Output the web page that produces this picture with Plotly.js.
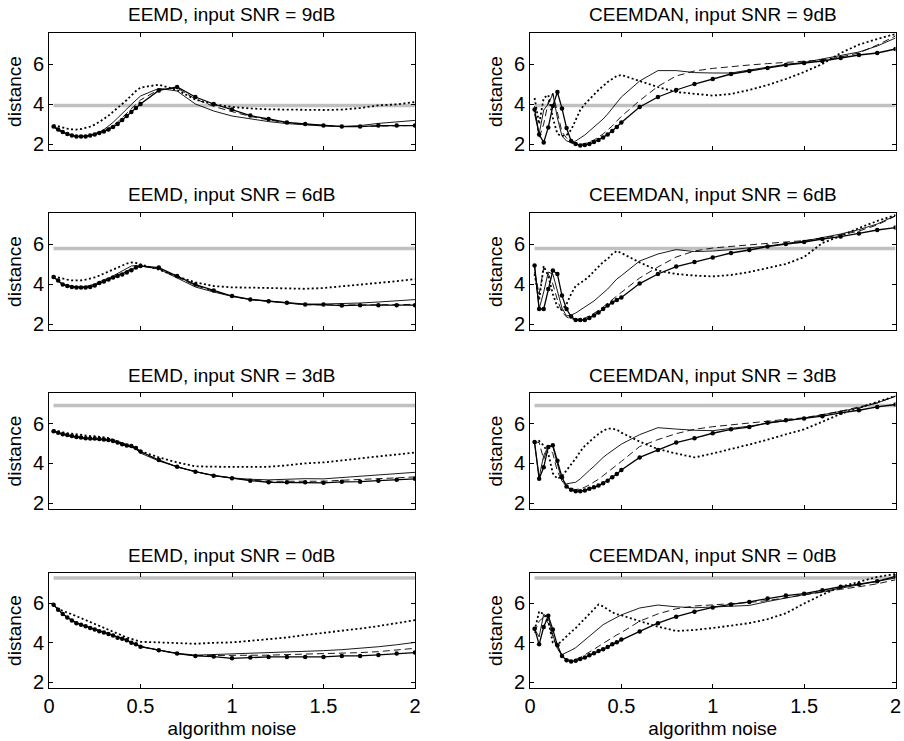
<!DOCTYPE html>
<html>
<head>
<meta charset="utf-8">
<script src="https://cdn.plot.ly/plotly-3.0.1.min.js"></script>
<style>html,body{margin:0;padding:0;background:#fff;}#chart{width:904px;height:741px;}</style>
</head>
<body>
<div id="chart"></div>
<script>
// algorithm noise grid
const xGrid = [0.025,0.05,0.075,0.1,0.125,0.15,0.175,0.2,0.225,0.25,0.275,0.3,0.325,0.35,0.375,0.4,0.425,0.45,0.475,0.5,0.6,0.7,0.8,0.9,1.0,1.1,1.2,1.3,1.4,1.5,1.6,1.7,1.8,1.9,2.0];
const xTicks = [0, 0.5, 1, 1.5, 2];
const yTicks = [2, 4, 6];
const snrLabels = ["9dB", "6dB", "3dB", "0dB"];
const methods = ["EEMD", "CEEMDAN"];
// distance of the noisy input (gray reference line), per SNR
const inputDistance = [3.92, 5.78, 6.92, 7.3];

// EEMD, 9dB
const eemd9_dot   = [2.95,2.88,2.82,2.77,2.73,2.72,2.75,2.8,2.87,2.97,3.1,3.25,3.42,3.6,3.8,4.0,4.2,4.45,4.65,4.82,4.97,4.7,4.22,3.98,3.85,3.78,3.73,3.72,3.7,3.7,3.72,3.8,3.93,3.98,4.1];
const eemd9_solid = [2.85,2.68,2.57,2.48,2.42,2.38,2.38,2.4,2.45,2.52,2.6,2.72,2.88,3.08,3.3,3.55,3.75,3.98,4.2,4.4,4.78,4.65,4.0,3.65,3.4,3.25,3.12,3.02,2.95,2.9,2.88,2.92,3.03,3.1,3.18];
const eemd9_dash  = [2.87,2.7,2.58,2.49,2.43,2.38,2.37,2.38,2.42,2.48,2.56,2.65,2.77,2.92,3.1,3.32,3.55,3.78,4.0,4.2,4.72,4.8,4.25,3.88,3.62,3.38,3.2,3.06,2.98,2.92,2.88,2.87,2.9,2.92,2.93];
const eemd9_mark  = [2.88,2.72,2.6,2.5,2.43,2.38,2.37,2.38,2.42,2.48,2.55,2.62,2.72,2.85,3.0,3.2,3.4,3.6,3.8,4.0,4.68,4.85,4.35,4.0,3.72,3.42,3.25,3.08,3.0,2.92,2.87,2.87,2.92,2.92,2.92];
// EEMD, 6dB
const eemd6_dot   = [4.38,4.32,4.27,4.22,4.18,4.17,4.18,4.22,4.27,4.33,4.42,4.52,4.62,4.73,4.85,4.95,5.02,5.08,5.05,4.98,4.72,4.38,4.08,3.9,3.83,3.82,3.8,3.78,3.76,3.8,3.88,3.96,4.05,4.14,4.25];
const eemd6_solid = [4.35,4.15,4.0,3.92,3.88,3.85,3.85,3.87,3.92,4.0,4.1,4.22,4.28,4.4,4.5,4.65,4.78,4.9,4.92,4.9,4.75,4.3,3.85,3.6,3.38,3.22,3.14,3.06,3.0,3.0,3.02,3.05,3.1,3.15,3.22];
const eemd6_dash  = [4.35,4.16,3.98,3.91,3.86,3.83,3.83,3.84,3.88,3.96,4.07,4.17,4.25,4.36,4.45,4.55,4.67,4.78,4.86,4.9,4.78,4.35,3.92,3.64,3.39,3.22,3.13,3.05,2.97,2.95,2.94,2.95,2.96,2.97,2.98];
const eemd6_mark  = [4.35,4.18,3.97,3.9,3.85,3.82,3.82,3.82,3.85,3.93,4.05,4.13,4.22,4.32,4.4,4.48,4.58,4.69,4.82,4.9,4.82,4.4,3.97,3.68,3.4,3.23,3.14,3.06,2.97,2.97,2.92,2.94,2.94,2.94,2.94];
// EEMD, 3dB
const eemd3_dot   = [5.68,5.62,5.55,5.52,5.5,5.47,5.42,5.4,5.38,5.37,5.35,5.33,5.28,5.2,5.1,5.0,4.92,4.85,4.75,4.62,4.3,4.05,3.85,3.82,3.82,3.82,3.83,3.9,4.0,4.05,4.15,4.25,4.33,4.42,4.55];
const eemd3_solid = [5.6,5.52,5.45,5.4,5.35,5.3,5.28,5.25,5.24,5.23,5.22,5.2,5.17,5.12,5.03,4.95,4.88,4.85,4.72,4.52,4.12,3.83,3.58,3.4,3.27,3.2,3.17,3.2,3.23,3.22,3.28,3.35,3.42,3.48,3.55];
const eemd3_dash  = [5.63,5.56,5.48,5.44,5.39,5.34,5.31,5.28,5.26,5.26,5.24,5.21,5.19,5.14,5.06,4.98,4.91,4.88,4.77,4.58,4.15,3.83,3.58,3.38,3.25,3.15,3.1,3.1,3.1,3.1,3.15,3.18,3.22,3.27,3.32];
const eemd3_mark  = [5.62,5.55,5.47,5.43,5.38,5.33,5.3,5.27,5.25,5.25,5.23,5.2,5.18,5.13,5.05,4.97,4.9,4.88,4.77,4.6,4.17,3.83,3.58,3.38,3.25,3.13,3.05,3.05,3.05,3.02,3.07,3.08,3.13,3.17,3.22];
// EEMD, 0dB
const eemd0_dot   = [5.93,5.72,5.62,5.55,5.45,5.35,5.25,5.15,5.05,4.95,4.85,4.75,4.65,4.55,4.45,4.35,4.27,4.2,4.12,4.05,4.02,4.0,3.95,4.0,4.02,4.1,4.18,4.27,4.4,4.5,4.62,4.72,4.85,5.0,5.15];
const eemd0_solid = [5.93,5.69,5.47,5.3,5.15,5.02,4.93,4.85,4.77,4.69,4.61,4.54,4.47,4.39,4.27,4.21,4.14,4.02,3.93,3.82,3.63,3.47,3.37,3.4,3.45,3.47,3.5,3.53,3.57,3.6,3.65,3.72,3.8,3.9,4.02];
const eemd0_dash  = [5.93,5.68,5.46,5.29,5.14,5.0,4.92,4.84,4.75,4.67,4.59,4.52,4.45,4.37,4.25,4.2,4.13,4.0,3.92,3.8,3.62,3.45,3.35,3.35,3.35,3.36,3.37,3.4,3.42,3.45,3.48,3.5,3.55,3.62,3.72];
const eemd0_mark  = [5.93,5.68,5.46,5.29,5.14,5.0,4.92,4.84,4.75,4.67,4.59,4.52,4.45,4.37,4.25,4.2,4.13,4.0,3.92,3.8,3.62,3.45,3.33,3.3,3.21,3.25,3.28,3.28,3.28,3.28,3.33,3.33,3.38,3.45,3.5];

// CEEMDAN, 9dB
const ceem9_dot   = [4.3,3.0,4.3,4.45,3.3,2.5,2.4,2.45,2.7,3.2,3.7,4.0,4.25,4.5,4.7,4.9,5.1,5.25,5.4,5.45,5.15,4.85,4.6,4.5,4.42,4.5,4.7,4.95,5.25,5.6,6.0,6.55,6.97,7.25,7.5];
const ceem9_solid = [3.5,2.5,3.7,4.0,4.5,3.3,2.4,2.15,2.1,2.15,2.3,2.45,2.65,2.85,3.05,3.25,3.5,3.8,4.1,4.35,5.15,5.67,5.67,5.57,5.55,5.55,5.7,5.85,5.98,6.08,6.25,6.45,6.6,6.9,7.3];
const ceem9_dash  = [3.9,2.3,3.0,4.1,4.55,3.5,2.6,2.3,2.05,1.98,1.98,2.02,2.1,2.2,2.35,2.5,2.7,2.9,3.15,3.38,4.17,4.88,5.4,5.65,5.78,5.88,5.95,6.02,6.08,6.12,6.2,6.35,6.55,6.95,7.4];
const ceem9_mark  = [3.72,2.47,2.08,2.83,3.9,4.6,3.78,2.8,2.15,2.0,1.93,1.95,2.0,2.1,2.2,2.33,2.48,2.65,2.85,3.08,3.85,4.35,4.7,5.0,5.25,5.5,5.65,5.8,5.95,6.05,6.15,6.3,6.45,6.55,6.75];
// CEEMDAN, 6dB
const ceem6_dot   = [4.5,3.2,4.9,4.4,3.5,2.85,2.7,3.0,3.5,3.9,4.05,4.2,4.4,4.65,4.9,5.1,5.25,5.5,5.65,5.55,5.08,4.67,4.5,4.42,4.38,4.45,4.6,4.8,5.0,5.35,6.05,6.4,6.8,7.15,7.45];
const ceem6_solid = [4.9,2.75,3.6,4.6,4.5,3.6,2.8,2.4,2.45,2.55,2.7,2.85,3.0,3.15,3.35,3.55,3.75,4.0,4.25,4.42,5.15,5.5,5.72,5.62,5.65,5.72,5.8,5.9,6.02,6.15,6.32,6.5,6.72,7.0,7.42];
const ceem6_dash  = [4.6,3.5,4.8,4.5,4.0,3.2,2.6,2.35,2.25,2.22,2.25,2.3,2.4,2.52,2.67,2.85,3.02,3.2,3.4,3.58,4.3,4.85,5.35,5.65,5.8,5.88,5.97,6.03,6.1,6.17,6.3,6.45,6.65,6.95,7.4];
const ceem6_mark  = [4.92,2.75,2.75,3.75,4.67,4.5,3.42,2.75,2.37,2.2,2.2,2.2,2.3,2.42,2.58,2.75,2.92,3.08,3.2,3.33,4.02,4.5,4.87,5.1,5.33,5.55,5.7,5.87,6.0,6.1,6.25,6.37,6.53,6.7,6.82];
// CEEMDAN, 3dB
const ceem3_dot   = [5.0,5.13,4.9,4.5,3.5,3.22,3.35,3.63,3.95,4.25,4.6,4.88,5.1,5.3,5.48,5.65,5.75,5.75,5.7,5.55,5.1,4.72,4.5,4.3,4.5,4.72,4.95,5.2,5.45,5.72,6.1,6.5,6.8,7.1,7.4];
const ceem3_solid = [5.0,3.3,4.4,4.85,4.85,3.9,3.1,2.97,3.0,3.05,3.22,3.45,3.65,3.85,4.08,4.3,4.48,4.65,4.82,4.97,5.45,5.8,5.73,5.67,5.65,5.75,5.88,6.02,6.15,6.28,6.45,6.62,6.8,7.05,7.38];
const ceem3_dash  = [5.1,5.05,4.2,4.9,4.5,3.6,3.1,2.85,2.72,2.68,2.72,2.8,2.92,3.05,3.2,3.38,3.55,3.75,3.92,4.1,4.85,5.2,5.5,5.72,5.85,5.95,6.05,6.15,6.22,6.3,6.45,6.63,6.85,7.05,7.4];
const ceem3_mark  = [5.08,3.22,3.8,4.83,4.92,4.13,3.3,2.83,2.67,2.6,2.6,2.63,2.72,2.8,2.88,3.0,3.13,3.3,3.47,3.67,4.3,4.67,5.05,5.27,5.52,5.72,5.83,6.05,6.17,6.27,6.38,6.55,6.68,6.85,6.97];
// CEEMDAN, 0dB
const ceem0_dot   = [4.6,5.6,5.45,5.1,4.0,3.9,4.1,4.35,4.55,4.75,5.0,5.25,5.5,5.75,5.95,5.85,5.7,5.55,5.45,5.4,5.1,4.82,4.6,4.65,4.75,4.88,5.0,5.2,5.5,6.0,6.45,6.85,7.1,7.35,7.5];
const ceem0_solid = [4.7,4.3,5.45,5.3,4.4,3.7,3.4,3.5,3.62,3.75,3.95,4.15,4.35,4.55,4.75,4.92,5.05,5.18,5.3,5.42,5.77,5.92,5.83,5.78,5.82,5.85,5.9,6.1,6.28,6.45,6.6,6.77,6.95,7.12,7.3];
const ceem0_dash  = [4.5,5.1,5.3,5.0,4.3,3.7,3.35,3.15,3.1,3.15,3.25,3.38,3.52,3.67,3.82,3.97,4.12,4.27,4.4,4.52,5.1,5.47,5.73,5.87,5.93,5.98,6.05,6.15,6.3,6.45,6.6,6.72,6.85,7.0,7.2];
const ceem0_mark  = [4.72,3.92,4.8,5.38,4.67,3.87,3.33,3.11,3.05,3.08,3.17,3.25,3.37,3.47,3.58,3.67,3.78,3.92,4.03,4.17,4.58,5.0,5.33,5.58,5.8,5.95,6.08,6.25,6.4,6.5,6.67,6.85,6.98,7.13,7.38];

// panels in reading order: row (SNR) x column (method)
const panels = [
  {m:0, s:0, dot:eemd9_dot, solid:eemd9_solid, dash:eemd9_dash, mark:eemd9_mark},
  {m:1, s:0, dot:ceem9_dot, solid:ceem9_solid, dash:ceem9_dash, mark:ceem9_mark},
  {m:0, s:1, dot:eemd6_dot, solid:eemd6_solid, dash:eemd6_dash, mark:eemd6_mark},
  {m:1, s:1, dot:ceem6_dot, solid:ceem6_solid, dash:ceem6_dash, mark:ceem6_mark},
  {m:0, s:2, dot:eemd3_dot, solid:eemd3_solid, dash:eemd3_dash, mark:eemd3_mark},
  {m:1, s:2, dot:ceem3_dot, solid:ceem3_solid, dash:ceem3_dash, mark:ceem3_mark},
  {m:0, s:3, dot:eemd0_dot, solid:eemd0_solid, dash:eemd0_dash, mark:eemd0_mark},
  {m:1, s:3, dot:ceem0_dot, solid:ceem0_solid, dash:ceem0_dash, mark:ceem0_mark}
];

const W = 904, H = 741;
const colPx = [[49, 415], [530, 895.5]];
const rowPx = [[33, 150], [213, 330], [393, 509], [573, 688]];
const FONT = "Liberation Sans, Arial, Helvetica, sans-serif";

const traces = [];
const layout = {
  width: W, height: H,
  margin: {l: 0, r: 0, t: 0, b: 0},
  paper_bgcolor: "#fff", plot_bgcolor: "#fff",
  showlegend: false,
  font: {family: FONT, color: "#000", size: 18},
  annotations: []
};

panels.forEach((p, i) => {
  const n = i + 1;
  const sfx = (n === 1 ? "" : String(n));
  const xa = "x" + sfx, ya = "y" + sfx;
  const col = p.m, row = p.s;
  const gx = [xGrid[0], xGrid[xGrid.length - 1]];
  traces.push({x: gx, y: [inputDistance[row], inputDistance[row]], xaxis: xa, yaxis: ya,
    mode: "lines", line: {color: "#c0c0c0", width: 3.5}, hoverinfo: "skip"});
  traces.push({x: xGrid, y: p.dot, xaxis: xa, yaxis: ya, mode: "lines",
    line: {color: "#000", width: 1.8, dash: "2px,2.5px"}});
  traces.push({x: xGrid, y: p.solid, xaxis: xa, yaxis: ya, mode: "lines",
    line: {color: "#000", width: 0.9}});
  traces.push({x: xGrid, y: p.dash, xaxis: xa, yaxis: ya, mode: "lines",
    line: {color: "#000", width: 0.9, dash: "7px,4px"}});
  traces.push({x: xGrid, y: p.mark, xaxis: xa, yaxis: ya, mode: "lines+markers",
    line: {color: "#000", width: 1.3}, marker: {color: "#000", size: 4.5}});

  const dx = [colPx[col][0] / W, colPx[col][1] / W];
  const dy = [1 - rowPx[row][1] / H, 1 - rowPx[row][0] / H];
  const common = {showline: true, linecolor: "#000", linewidth: 1, mirror: "ticks",
    ticks: "inside", ticklen: 4, tickwidth: 1, tickcolor: "#000",
    showgrid: false, zeroline: false, fixedrange: true,
    tickfont: {family: FONT, size: 20, color: "#000"}};
  layout["xaxis" + sfx] = Object.assign({}, common, {
    domain: dx, anchor: ya, range: [0, 2], tickmode: "array",
    tickvals: xTicks, ticktext: xTicks.map(String), showticklabels: row === 3,
    title: row === 3 ? {text: "algorithm noise", font: {family: FONT, size: 19}, standoff: 5} : {text: ""}
  });
  layout["yaxis" + sfx] = Object.assign({}, common, {
    domain: dy, anchor: xa, range: [1.7, 7.55], tickmode: "array",
    tickvals: yTicks, ticktext: yTicks.map(String),
    title: {text: "distance", font: {family: FONT, size: 19}, standoff: 6}
  });
  layout.annotations.push({
    xref: "paper", yref: "paper", x: (dx[0] + dx[1]) / 2, y: dy[1],
    yshift: 18, xanchor: "center", yanchor: "middle", showarrow: false,
    text: methods[col] + ", input SNR = " + snrLabels[row],
    font: {family: FONT, size: 19, color: "#000"}
  });
});

Plotly.newPlot("chart", traces, layout, {staticPlot: true, displayModeBar: false});
</script>
</body>
</html>
